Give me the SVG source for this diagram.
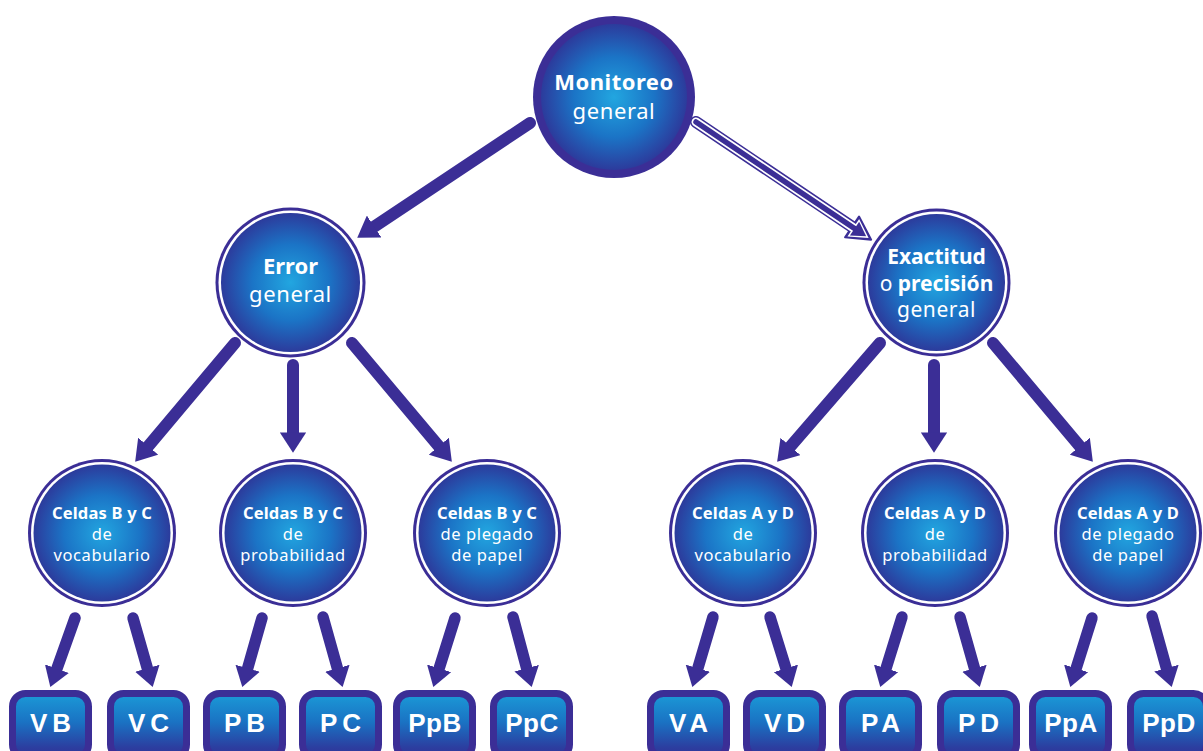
<svg xmlns="http://www.w3.org/2000/svg" width="1203" height="751" viewBox="0 0 1203 751">
<defs>
<radialGradient id="cg" cx="0.5" cy="0.5" r="0.5">
<stop offset="0" stop-color="#22a6e0"/>
<stop offset="0.55" stop-color="#1b74c6"/>
<stop offset="1" stop-color="#2c3b9c"/>
</radialGradient>
<linearGradient id="bg" x1="0" y1="0" x2="0" y2="1">
<stop offset="0" stop-color="#1b9ad7"/>
<stop offset="0.45" stop-color="#1a72c3"/>
<stop offset="0.85" stop-color="#2c3d9f"/>
<stop offset="1" stop-color="#33339a"/>
</linearGradient>
<marker id="ah" markerUnits="strokeWidth" viewBox="0 -1.1 1.7 2.2" markerWidth="1.7" markerHeight="2.2" refX="0.05" refY="0" orient="auto">
<path d="M0,-1.1 L1.7,0 L0,1.1 Z" fill="#3b2e96"/>
</marker>
<style>
.pu{fill:#3b2e96}
.wh{fill:#ffffff}
.gr{fill:url(#cg)}
.ar{stroke:#3b2e96;stroke-width:12;stroke-linecap:round;fill:none;marker-end:url(#ah)}
.ar2{stroke:#3b2e96;stroke-width:11.5;stroke-linecap:round;fill:none;marker-end:url(#ah)}
.box{fill:url(#bg);stroke:#3b2e96;stroke-width:7}
.t{font-family:"Noto Sans","Open Sans",sans-serif;fill:#ffffff;text-anchor:middle}
.tb{font-weight:bold}
.s3{font-size:16.5px;letter-spacing:0.6px}
.s3b{font-size:16.5px;font-weight:bold;letter-spacing:0.2px}
.bt{font-family:"Liberation Sans",Arial,sans-serif;font-weight:bold;font-size:26px;fill:#ffffff;text-anchor:middle}
</style>
</defs>
<rect width="1203" height="751" fill="#ffffff"/>

<g id="connectors">
<line class="ar" x1="530" y1="123" x2="373.7" y2="226.9"/>
<g transform="translate(696,122) rotate(33.9)">
<line x1="0" y1="0" x2="192" y2="0" stroke="#3b2e96" stroke-width="12" stroke-linecap="round"/>
<polygon points="188,-12.5 211,0 188,12.5" fill="#3b2e96" stroke="#3b2e96" stroke-width="2" stroke-linejoin="round"/>
<line x1="0" y1="0" x2="190" y2="0" stroke="#ffffff" stroke-width="9" stroke-linecap="round"/>
<polygon points="189.5,-10.5 208,0 189.5,10.5" fill="#ffffff"/>
<line x1="0" y1="0" x2="191" y2="0" stroke="#3b2e96" stroke-width="5.5" stroke-linecap="round"/>
<polygon points="191,-8.3 205,0 191,8.3" fill="#3b2e96"/>
</g>
<line class="ar" x1="235" y1="343" x2="147.9" y2="446.7"/>
<line class="ar" x1="293" y1="365" x2="293" y2="433"/>
<line class="ar" x1="352" y1="343" x2="439.1" y2="446.7"/>
<line class="ar" x1="880" y1="343" x2="790.1" y2="446.9"/>
<line class="ar" x1="934" y1="365" x2="934" y2="433"/>
<line class="ar" x1="993" y1="343" x2="1080.1" y2="446.7"/>

<line class="ar2" x1="75" y1="618" x2="56.7" y2="669.2"/>
<line class="ar2" x1="133" y1="618" x2="147.5" y2="668.8"/>
<line class="ar2" x1="262" y1="618" x2="247.5" y2="668.8"/>
<line class="ar2" x1="323" y1="617" x2="337.5" y2="668.8"/>
<line class="ar2" x1="455" y1="618" x2="439" y2="668.9"/>
<line class="ar2" x1="513" y1="617" x2="526.8" y2="668.7"/>
<line class="ar2" x1="713" y1="617" x2="697.7" y2="668.8"/>
<line class="ar2" x1="770" y1="617" x2="786.1" y2="668.9"/>
<line class="ar2" x1="902" y1="617" x2="885.9" y2="668.9"/>
<line class="ar2" x1="960" y1="617" x2="974.6" y2="668.8"/>
<line class="ar2" x1="1092" y1="618" x2="1076" y2="668.9"/>
<line class="ar2" x1="1152" y1="616" x2="1166.6" y2="668.7"/>
</g>

<g id="n-monitoreo">
<circle class="pu" cx="614" cy="97" r="81"/>
<circle class="gr" cx="614" cy="97" r="73"/>
<text class="t tb" x="614" y="90" font-size="22" letter-spacing="0.5">Monitoreo</text>
<text class="t" x="614" y="119" font-size="22" letter-spacing="0.6">general</text>
</g>

<g id="n-error">
<circle class="pu" cx="290.5" cy="282.5" r="75"/>
<circle class="wh" cx="290.5" cy="282.5" r="72"/>
<circle class="gr" cx="290.5" cy="282.5" r="69.5"/>
<text class="t tb" x="290.5" y="274" font-size="22">Error</text>
<text class="t" x="290.5" y="302" font-size="22" letter-spacing="0.6">general</text>
</g>

<g id="n-exactitud">
<circle class="pu" cx="936.5" cy="282.5" r="74"/>
<circle class="wh" cx="936.5" cy="282.5" r="71"/>
<circle class="gr" cx="936.5" cy="282.5" r="68.5"/>
<text class="t tb" x="936.5" y="264" font-size="21">Exactitud</text>
<text class="t" x="936.5" y="291" font-size="21">o <tspan font-weight="bold">precisión</tspan></text>
<text class="t" x="936.5" y="317" font-size="21" letter-spacing="0.6">general</text>
</g>

<g id="n-bc-voc">
<circle class="pu" cx="102" cy="533" r="74"/>
<circle class="wh" cx="102" cy="533" r="71"/>
<circle class="gr" cx="102" cy="533" r="68.5"/>
<text class="t s3b" x="102" y="519">Celdas B y C</text>
<text class="t s3" x="102" y="540">de</text>
<text class="t s3" x="102" y="561">vocabulario</text>
</g>
<g id="n-bc-prob">
<circle class="pu" cx="293" cy="533" r="74"/>
<circle class="wh" cx="293" cy="533" r="71"/>
<circle class="gr" cx="293" cy="533" r="68.5"/>
<text class="t s3b" x="293" y="519">Celdas B y C</text>
<text class="t s3" x="293" y="540">de</text>
<text class="t s3" x="293" y="561">probabilidad</text>
</g>
<g id="n-bc-pleg">
<circle class="pu" cx="487" cy="533" r="74"/>
<circle class="wh" cx="487" cy="533" r="71"/>
<circle class="gr" cx="487" cy="533" r="68.5"/>
<text class="t s3b" x="487" y="519">Celdas B y C</text>
<text class="t s3" x="487" y="540">de plegado</text>
<text class="t s3" x="487" y="561">de papel</text>
</g>
<g id="n-ad-voc">
<circle class="pu" cx="743" cy="533" r="74"/>
<circle class="wh" cx="743" cy="533" r="71"/>
<circle class="gr" cx="743" cy="533" r="68.5"/>
<text class="t s3b" x="743" y="519">Celdas A y D</text>
<text class="t s3" x="743" y="540">de</text>
<text class="t s3" x="743" y="561">vocabulario</text>
</g>
<g id="n-ad-prob">
<circle class="pu" cx="935" cy="533" r="74"/>
<circle class="wh" cx="935" cy="533" r="71"/>
<circle class="gr" cx="935" cy="533" r="68.5"/>
<text class="t s3b" x="935" y="519">Celdas A y D</text>
<text class="t s3" x="935" y="540">de</text>
<text class="t s3" x="935" y="561">probabilidad</text>
</g>
<g id="n-ad-pleg">
<circle class="pu" cx="1128" cy="533" r="74"/>
<circle class="wh" cx="1128" cy="533" r="71"/>
<circle class="gr" cx="1128" cy="533" r="68.5"/>
<text class="t s3b" x="1128" y="519">Celdas A y D</text>
<text class="t s3" x="1128" y="540">de plegado</text>
<text class="t s3" x="1128" y="561">de papel</text>
</g>

<g id="b-vb"><rect class="box" x="12.5" y="693.5" width="76" height="64" rx="13"/><text class="bt" x="53" y="732" letter-spacing="5">VB</text></g>
<g id="b-vc"><rect class="box" x="110.5" y="693.5" width="76" height="64" rx="13"/><text class="bt" x="151" y="732" letter-spacing="5">VC</text></g>
<g id="b-pb"><rect class="box" x="206.5" y="693.5" width="76" height="64" rx="13"/><text class="bt" x="247" y="732" letter-spacing="5">PB</text></g>
<g id="b-pc"><rect class="box" x="302.5" y="693.5" width="76" height="64" rx="13"/><text class="bt" x="343" y="732" letter-spacing="5">PC</text></g>
<g id="b-ppb"><rect class="box" x="396.5" y="693.5" width="76" height="64" rx="13"/><text class="bt" x="435" y="732" letter-spacing="0.5">PpB</text></g>
<g id="b-ppc"><rect class="box" x="493.5" y="693.5" width="76" height="64" rx="13"/><text class="bt" x="532" y="732" letter-spacing="0.5">PpC</text></g>
<g id="b-va"><rect class="box" x="650.5" y="693.5" width="76" height="64" rx="13"/><text class="bt" x="691" y="732" letter-spacing="5">VA</text></g>
<g id="b-vd"><rect class="box" x="746.5" y="693.5" width="76" height="64" rx="13"/><text class="bt" x="787" y="732" letter-spacing="5">VD</text></g>
<g id="b-pa"><rect class="box" x="842.5" y="693.5" width="76" height="64" rx="13"/><text class="bt" x="883" y="732" letter-spacing="5">PA</text></g>
<g id="b-pd"><rect class="box" x="940.5" y="693.5" width="76" height="64" rx="13"/><text class="bt" x="981" y="732" letter-spacing="5">PD</text></g>
<g id="b-ppa"><rect class="box" x="1032.5" y="693.5" width="76" height="64" rx="13"/><text class="bt" x="1071" y="732" letter-spacing="0.5">PpA</text></g>
<g id="b-ppd"><rect class="box" x="1130.5" y="693.5" width="76" height="64" rx="13"/><text class="bt" x="1169" y="732" letter-spacing="0.5">PpD</text></g>
</svg>
